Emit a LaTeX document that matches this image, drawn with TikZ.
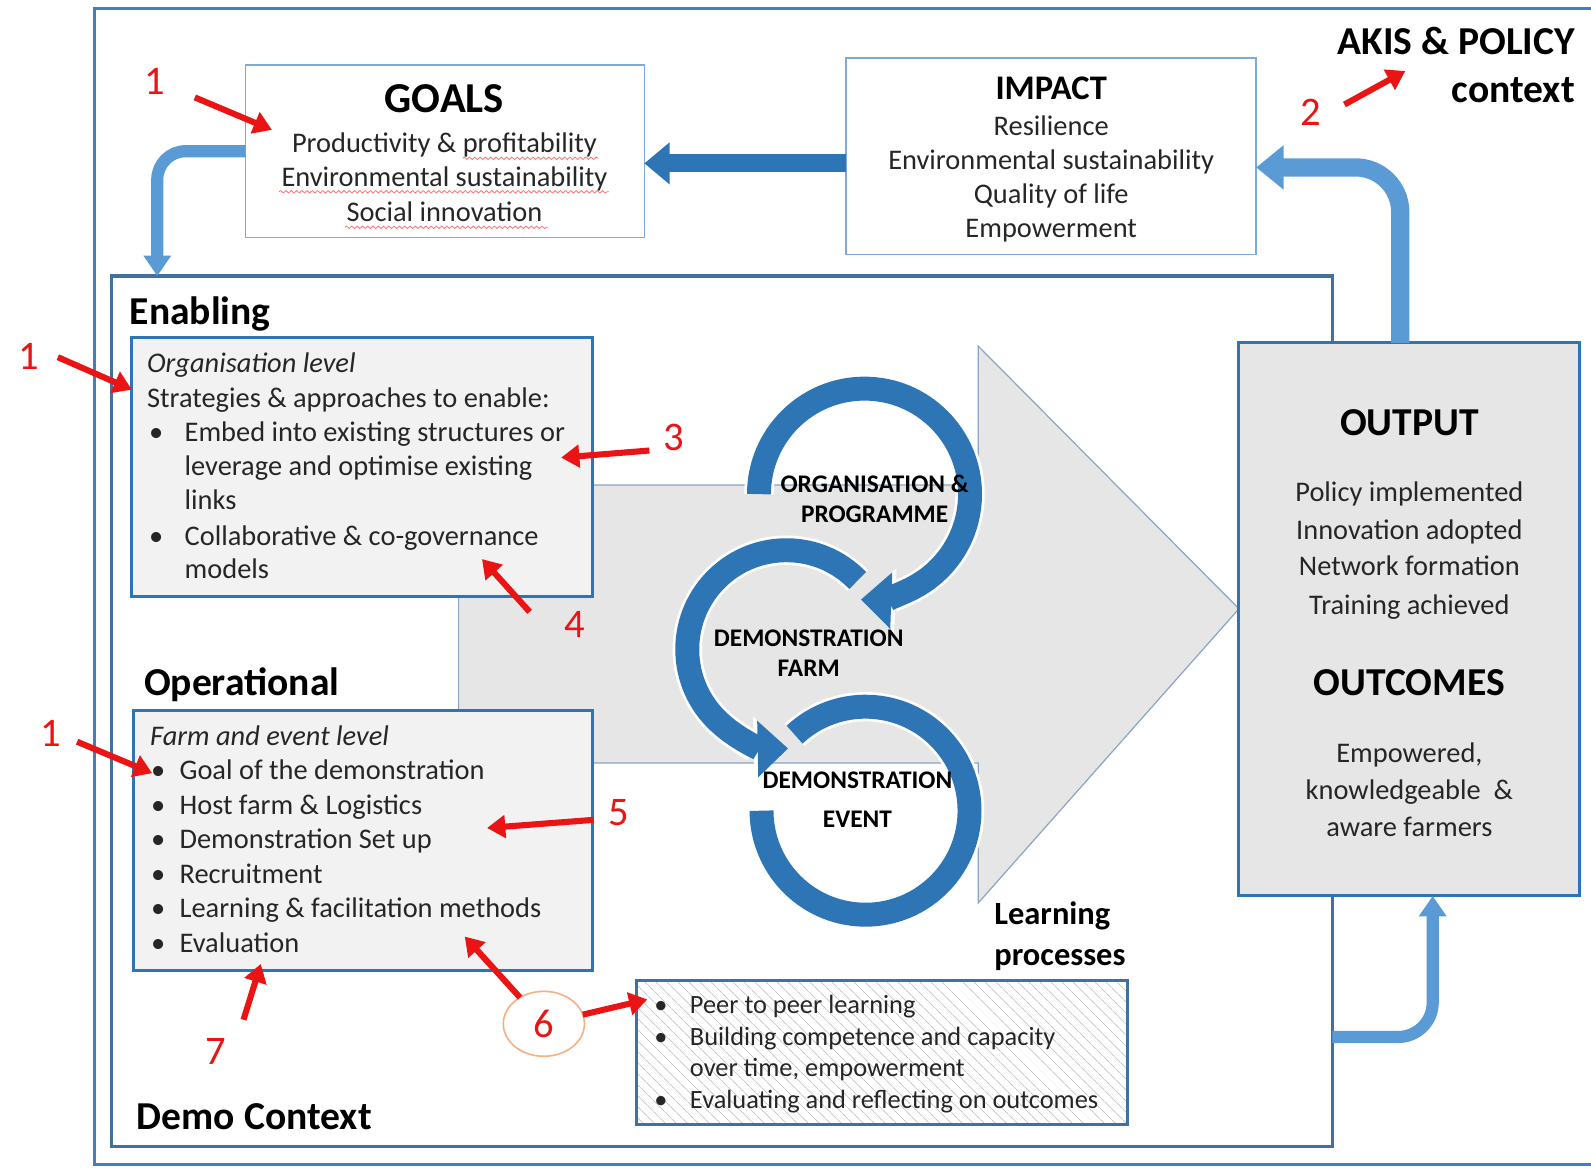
\documentclass[tikz,border=0pt]{standalone}
\usepackage{fontspec}
\setmainfont{Carlito}
\usetikzlibrary{arrows.meta,shapes.geometric,patterns.meta,decorations.pathmorphing}
\definecolor{bblue}{RGB}{46,117,182}
\definecolor{lblue}{RGB}{91,155,213}
\definecolor{sblue}{RGB}{65,113,156}
\definecolor{fblue}{RGB}{70,125,190}
\definecolor{thinblue}{RGB}{125,170,215}
\definecolor{boxgray}{RGB}{242,242,242}
\definecolor{outgray}{RGB}{231,230,230}
\definecolor{arrline}{RGB}{140,165,195}
\definecolor{orangeb}{RGB}{244,177,131}
\definecolor{redn}{RGB}{235,20,20}
\definecolor{txtc}{RGB}{38,38,38}
\begin{document}
\begin{tikzpicture}[x=0.5pt,y=-0.5pt,
  tx/.style={inner sep=0pt,outer sep=0pt,text=txtc,text height=1.0em,text depth=0.15em},
  body/.style={tx,font=\fontsize{14}{17}\selectfont},
  bodyit/.style={tx,font=\fontsize{14}{17}\selectfont\itshape},
  small/.style={tx,font=\fontsize{13}{15.5}\selectfont},
  ttl/.style={tx,text=black,font=\fontsize{19.5}{23}\selectfont\bfseries},
  lttl/.style={tx,text=black,font=\fontsize{16}{19}\selectfont\bfseries},
  rlab/.style={tx,text=black,font=\fontsize{12.5}{15}\selectfont\bfseries},
  num/.style={tx,text=redn,font=\fontsize{20}{24}\selectfont},
  redarr/.style={draw=redn,line width=3pt,-{Triangle[width=11pt,length=9pt]}},
  levelbox/.style={draw=bblue,line width=1.5pt,fill=boxgray,inner sep=0pt,outer sep=0pt},
  topbox/.style={draw=thinblue,line width=0.8pt,fill=white,inner sep=0pt,outer sep=0pt},
  ringw/.style={draw=white,line width=14.5pt,-{Triangle[width=31pt,length=17pt]}},
  ringb/.style={draw=bblue,line width=11.8pt,-{Triangle[width=27pt,length=15pt]}},
  ringwn/.style={draw=white,line width=14.5pt},
  ringbn/.style={draw=bblue,line width=11.8pt},
  bigarr/.style={draw=bblue,line width=9pt,-{Triangle[width=20pt,length=12.5pt]}},
  toparr/.style={draw=lblue,line width=9pt,-{Triangle[width=21pt,length=13.5pt]}},
  midarr/.style={draw=lblue,line width=6pt,-{Triangle[width=13pt,length=10pt]}},
  squig/.style={draw=red!55,line width=0.4pt,decorate,decoration={snake,amplitude=0.6pt,segment length=2.6pt}}
]
\useasboundingbox (0,0) rectangle (1568,1151);
\clip (0,0) rectangle (1568,1151);

% outer frame
\draw[fblue,line width=1.5pt] (93,8) rectangle (1600,1148);

% demo context box
\node[draw=sblue,line width=1.5pt,inner sep=0pt,outer sep=0pt,minimum width=601.5pt,minimum height=429pt] (demo) at (711.5,701) {};

% big grey arrow
\draw[fill=outgray,draw=arrline,line width=0.6pt] (452,478) -- (964,478) -- (964,341) -- (1221,600) -- (964,890) -- (964,752) -- (452,752) -- cycle;

% top boxes
\node[topbox,minimum width=196.5pt,minimum height=85pt] (goals) at (438.5,149) {};
\node[topbox,minimum width=202pt,minimum height=97pt] (impact) at (1036,154) {};

% level boxes
\node[levelbox,minimum width=227pt,minimum height=127.5pt] (enab) at (357,460.5) {};
\node[levelbox,minimum width=226pt,minimum height=128pt] (oper) at (358,828) {};

% learning processes box
\node[draw=sblue,line width=1.5pt,inner sep=0pt,outer sep=0pt,preaction={fill=white},
  pattern={Lines[angle=-45,distance=4pt,line width=0.5pt]},pattern color=black!22,
  minimum width=242pt,minimum height=71pt] (learn) at (869,1037) {};

% output box
\node[draw=bblue,line width=1.5pt,fill=outgray,inner sep=0pt,outer sep=0pt,minimum width=168pt,minimum height=272.5pt] (output) at (1389,610.5) {};

% rings
\draw[ringwn] (783.1,724) arc[start angle=227,end angle=540,radius=102.5];
\draw[ringbn] (783.1,724) arc[start angle=227,end angle=540,radius=102.5];
\draw[ringw] (845.3,572.1) arc[start angle=316,end angle=89,radius=97.7];
\draw[ringb] (845.3,572.1) arc[start angle=316,end angle=89,radius=97.7];
\draw[ringw] (748,487) arc[start angle=180,end angle=452,radius=104];
\draw[ringb] (748,487) arc[start angle=180,end angle=452,radius=104];

% ring labels
\node[rlab] (rl1) at (862,477) {ORGANISATION \&};
\node[rlab] (rl2) at (862,506) {PROGRAMME};
\node[rlab] (rl3) at (797,629) {DEMONSTRATION};
\node[rlab] (rl4) at (797,658) {FARM};
\node[rlab] (rl5) at (845,769) {DEMONSTRATION};
\node[rlab] (rl6) at (845,807) {EVENT};

% blue connectors
\coordinate (ia) at ([yshift=-3.5pt]impact.west);
\draw[bigarr] (ia) -- (ia -| goals.east);
\draw[midarr,rounded corners=14pt] (goals.west) -| ([xshift=22.5pt]demo.north west);
\coordinate (oa) at ([xshift=-4.5pt]output.north);
\coordinate (ib) at ([yshift=-5.5pt]impact.east);
\draw[toparr,rounded corners=22pt] (oa) |- (ib);
\coordinate (da) at ([yshift=54pt]demo.south east);
\coordinate (ob) at ([xshift=11.5pt]output.south);
\draw[midarr,rounded corners=17pt] (da) -| (ob);

% GOALS text
\node[tx,text=black,font=\fontsize{21}{25}\selectfont\bfseries] (goalsT) at (438,102) {GOALS};
\node[body] (g1) at (438,142) {Productivity \& profitability};
\node[body] (g2) at (438,175) {Environmental sustainability};
\node[body] (g3) at (438,210) {Social innovation};
\draw[squig] (456,156) -- (590,156);
\draw[squig] (275,189) -- (600,189);
\draw[squig] (340,224) -- (540,224);

% IMPACT text
\node[tx,text=black,font=\fontsize{17}{20}\selectfont\bfseries] (impT) at (1036,90) {IMPACT};
\node[body] (i1) at (1036,125) {Resilience};
\node[body] (i2) at (1036,159) {Environmental sustainability};
\node[body] (i3) at (1036,192) {Quality of life};
\node[body] (i4) at (1036,226) {Empowerment};

% AKIS
\node[ttl,anchor=east] (akis1) at (1552,45) {AKIS \& POLICY};
\node[ttl,anchor=east] (akis2) at (1552,93) {context};

% section titles
\node[ttl,anchor=west] (enT) at (128,311) {Enabling};
\node[ttl,anchor=west] (opT) at (142,677) {Operational};
\node[ttl,anchor=west] (dcT) at (135,1105) {Demo Context};
\node[lttl,anchor=west] (lpT1) at (980,903) {Learning};
\node[lttl,anchor=west] (lpT2) at (980,943) {processes};

% enabling box text
\node[bodyit,anchor=west] (e1) at (145,359) {Organisation level};
\node[body,anchor=west] (e2) at (145,393) {Strategies \& approaches to enable:};
\node[body,anchor=west] (eb1) at (147,427) {•};
\node[body,anchor=west] (eb2) at (147,529) {•};
\foreach \txt/\yy [count=\i] in {Embed into existing structures or/427,leverage and optimise existing/460,links/494,Collaborative \& co-governance/529,models/562}
  \node[body,anchor=west] (et\i) at (182,\yy) {\txt};

% operational box text
\node[bodyit,anchor=west] (o1) at (148,726) {Farm and event level};
\foreach \txt/\yy [count=\i] in {Goal of the demonstration/760,Host farm \& Logistics/794,Demonstration Set up/828,Recruitment/862,Learning \& facilitation methods/896,Evaluation/930}{
  \node[body,anchor=west] (obul\i) at (149,\yy) {•};
  \node[body,anchor=west] (ot\i) at (177,\yy) {\txt};
}

% learning box text
\node[small,anchor=west] (lb1) at (645,990) {•};
\node[small,anchor=west] (lb2) at (645,1022) {•};
\node[small,anchor=west] (lb3) at (645,1084) {•};
\foreach \txt/\yy [count=\i] in {Peer to peer learning/990,Building competence and capacity/1022,{over time, empowerment}/1052,Evaluating and reflecting on outcomes/1084}
  \node[small,anchor=west] (lt\i) at (680,\yy) {\txt};

% output text
\node[ttl] (outT) at (1389,421) {OUTPUT};
\foreach \txt/\yy [count=\i] in {Policy implemented/486,Innovation adopted/523,Network formation/559,Training achieved/597}
  \node[body] (ou\i) at (1389,\yy) {\txt};
\node[ttl] (outcT) at (1389,677) {OUTCOMES};
\node[body] (oc1) at (1389,743) {Empowered,};
\node[body] (oc2) at (1389,779) {knowledgeable\ \ \&};
\node[body] (oc3) at (1389,816) {aware farmers};

% red numbers
\node[num] (n1a) at (153,85) {1};
\node[num] (n2) at (1292,115) {2};
\node[num] (n1b) at (28,356) {1};
\node[num] (n3) at (664,435) {3};
\node[num] (n4) at (566,620) {4};
\node[num] (n1c) at (50,727) {1};
\node[num] (n5) at (610,805) {5};
\node[num] (n7) at (213,1041) {7};
\node[ellipse,draw=orangeb,line width=0.8pt,fill=white,inner sep=0pt,outer sep=0pt,
  minimum width=40pt,minimum height=32pt,text=redn,font=\fontsize{20}{24}\selectfont] (c6) at (536,1009) {6};

% red arrows
\coordinate (s1) at (192,96);   \coordinate (t1) at (268,128);
\coordinate (s2) at (1325,103); \coordinate (t2) at (1385,70);
\coordinate (s3) at (57,352);   \coordinate (t3) at (130,384);
\coordinate (s4) at (640,444);  \coordinate (t4) at (553,451);
\coordinate (s5) at (522,603);  \coordinate (t5) at (475,551);
\coordinate (s6) at (76,731);   \coordinate (t6) at (150,762);
\coordinate (s7) at (585,808);  \coordinate (t7) at (480,816);
\coordinate (s8) at (240,1005); \coordinate (t8) at (257,950);
\coordinate (t9) at (458,923);
\coordinate (t10) at (638,985);
\foreach \i in {1,...,8} \draw[redarr] (s\i) -- (t\i);
\draw[redarr] (c6) -- (t9);
\draw[redarr] (c6) -- (t10);
\end{tikzpicture}
\end{document}
